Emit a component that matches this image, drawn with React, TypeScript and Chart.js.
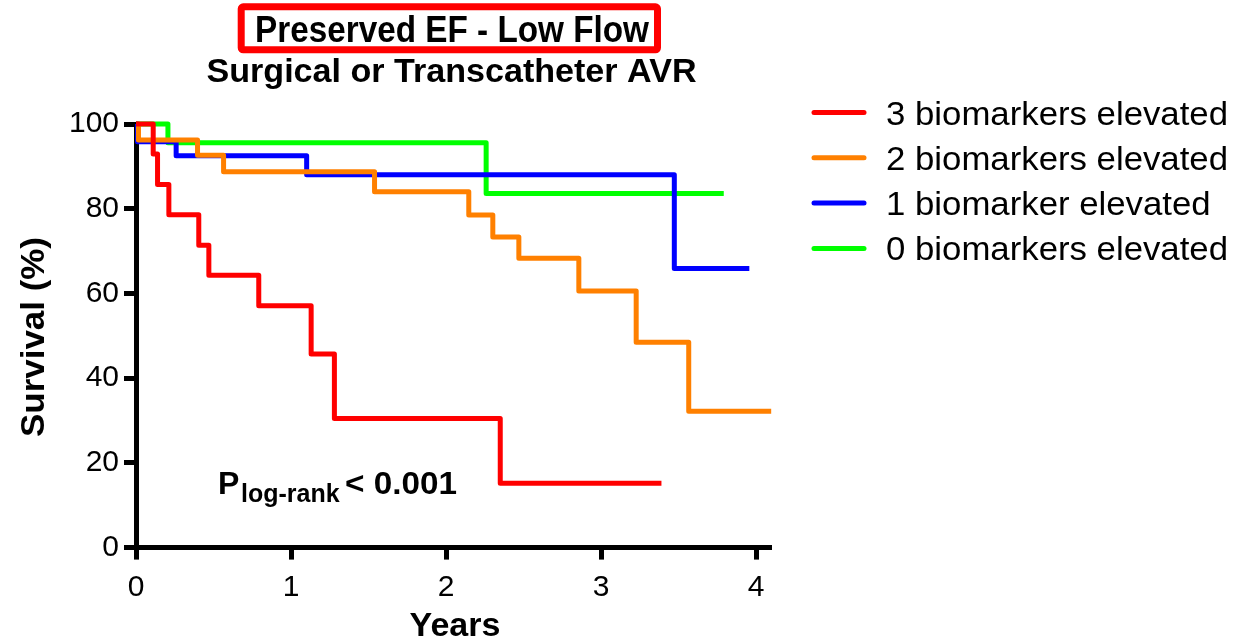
import React, { useEffect, useRef } from 'react';
import { Chart, registerables } from 'chart.js';

Chart.register(...registerables);

// ---- data (years, survival %) ----
const seriesLabels = ['3 biomarkers elevated', '2 biomarkers elevated', '1 biomarker elevated', '0 biomarkers elevated'];
const seriesColors = ['#FF0000', '#FF8000', '#0000FF', '#00FF00'];

const redTimes = [0, 0.111, 0.139, 0.212, 0.405, 0.47, 0.792, 1.13, 1.28, 2.35, 3.39];
const redSurv = [100, 92.9, 85.7, 78.6, 71.4, 64.3, 57.1, 45.7, 30.5, 15.2, 15.2];

const orangeTimes = [0, 0.016, 0.397, 0.565, 1.539, 2.147, 2.302, 2.47, 2.857, 3.227, 3.566, 4.098];
const orangeSurv = [100, 96.2, 92.6, 88.7, 84.0, 78.5, 73.3, 68.3, 60.6, 48.5, 32.2, 32.2];

const blueTimes = [0, 0.01, 0.259, 1.101, 3.473, 3.957];
const blueSurv = [100, 95.8, 92.5, 88.0, 65.9, 65.9];

const greenTimes = [0, 0.206, 2.259, 3.792];
const greenSurv = [100, 95.6, 83.6, 83.6];

const xTickValues = [0, 1, 2, 3, 4];
const yTickValues = [0, 20, 40, 60, 80, 100];

const titleText = 'Preserved EF - Low Flow';
const subtitleText = 'Surgical or Transcatheter AVR';
const xTitle = 'Years';
const yTitle = 'Survival (%)';

const FONT = '"Liberation Sans", Arial, Helvetica, sans-serif';

function pts(t: number[], s: number[]) {
  return t.map((x, i) => ({ x, y: s[i] }));
}

function drawText(
  ctx: CanvasRenderingContext2D,
  s: string,
  x: number,
  y: number,
  size: number,
  bold: boolean,
  align: CanvasTextAlign,
  targetW?: number
) {
  ctx.save();
  ctx.font = `${bold ? 'bold ' : ''}${size}px ${FONT}`;
  ctx.textBaseline = 'alphabetic';
  ctx.fillStyle = '#000';
  const w = ctx.measureText(s).width;
  const sx = targetW ? targetW / w : 1;
  ctx.translate(x, y);
  ctx.scale(sx, 1);
  ctx.textAlign = align;
  ctx.fillText(s, 0, 0);
  ctx.restore();
}

const decorPlugin = {
  id: 'decor',
  afterDraw(chart: any) {
    const ctx: CanvasRenderingContext2D = chart.ctx;
    // Title box
    ctx.save();
    ctx.strokeStyle = '#FF0000';
    ctx.lineWidth = 7;
    ctx.beginPath();
    if ((ctx as any).roundRect) {
      (ctx as any).roundRect(241.2, 6.8, 416.3, 43, 2);
    } else {
      ctx.rect(241.2, 6.8, 416.3, 43);
    }
    ctx.stroke();
    ctx.restore();

    drawText(ctx, titleText, 452, 42, 37, true, 'center', 394);
    drawText(ctx, subtitleText, 451.5, 82, 33, true, 'center', 490);

    // axis titles
    drawText(ctx, xTitle, 455, 636, 34, true, 'center');
    ctx.save();
    ctx.translate(44, 337);
    ctx.rotate(-Math.PI / 2);
    drawText(ctx, yTitle, 0, 0, 34, true, 'center', 200);
    ctx.restore();

    // P log-rank annotation
    drawText(ctx, 'P', 218, 494.3, 32, true, 'left');
    drawText(ctx, 'log-rank', 241, 501.7, 25, true, 'left');
    drawText(ctx, '< 0.001', 345, 494.3, 32, true, 'left', 112);

    // Legend
    ctx.save();
    ctx.font = `33px ${FONT}`;
    const w0 = ctx.measureText(seriesLabels[0]).width;
    const sx = 342 / w0;
    ctx.restore();
    const baselines = [124.5, 169.8, 215.1, 260.4];
    chart.data.datasets.forEach((ds: any, i: number) => {
      const by = baselines[i];
      ctx.save();
      ctx.strokeStyle = ds.borderColor;
      ctx.lineWidth = 5;
      ctx.lineCap = 'round';
      ctx.beginPath();
      ctx.moveTo(814, by - 12);
      ctx.lineTo(864, by - 12);
      ctx.stroke();
      ctx.restore();
      ctx.save();
      ctx.font = `33px ${FONT}`;
      ctx.fillStyle = '#000';
      ctx.textBaseline = 'alphabetic';
      ctx.translate(886, by);
      ctx.scale(sx, 1);
      ctx.fillText(ds.label, 0, 0);
      ctx.restore();
    });
  },
};

export default function App() {
  const ref = useRef<HTMLCanvasElement | null>(null);

  useEffect(() => {
    document.body.style.margin = '0';
    const canvas = ref.current;
    if (!canvas) return;
    const seriesData = [
      pts(redTimes, redSurv),
      pts(orangeTimes, orangeSurv),
      pts(blueTimes, blueSurv),
      pts(greenTimes, greenSurv),
    ];
    const chart = new Chart(canvas, {
      type: 'line',
      data: {
        datasets: seriesData.map((d, i) => ({
          label: seriesLabels[i],
          data: d,
          borderColor: seriesColors[i],
          backgroundColor: seriesColors[i],
          borderWidth: 5,
          pointRadius: 0,
          pointHoverRadius: 0,
          stepped: 'before' as const,
          fill: false,
          tension: 0,
          clip: false as any,
          borderJoinStyle: 'round' as const,
        })),
      },
      options: {
        responsive: false,
        animation: false,
        devicePixelRatio: 1,
        events: [],
        layout: { padding: { left: 0, top: 124, right: 1245 - 771.5, bottom: 0 } },
        plugins: {
          legend: { display: false },
          title: { display: false },
          tooltip: { enabled: false },
        },
        scales: {
          x: {
            type: 'linear',
            min: 0,
            max: 4.1,
            afterFit: (scale: any) => {
              scale.height = 642 - 547.6;
            },
            afterBuildTicks: (scale: any) => {
              scale.ticks = xTickValues.map((v) => ({ value: v }));
            },
            ticks: {
              stepSize: 1,
              includeBounds: false,
              color: '#000',
              padding: 10,
              font: { size: 30, family: FONT },
              maxRotation: 0,
            },
            grid: {
              display: true,
              drawOnChartArea: false,
              drawTicks: true,
              tickLength: 12,
              tickWidth: 5,
              tickColor: '#000',
              color: '#000',
            },
            border: { display: true, color: '#000', width: 5 },
          },
          y: {
            type: 'linear',
            min: 0,
            max: 100,
            afterFit: (scale: any) => {
              scale.width = 136;
            },
            afterBuildTicks: (scale: any) => {
              scale.ticks = yTickValues.map((v) => ({ value: v }));
            },
            ticks: {
              stepSize: 20,
              color: '#000',
              padding: 5,
              font: { size: 30, family: FONT },
            },
            grid: {
              display: true,
              drawOnChartArea: false,
              drawTicks: true,
              tickLength: 12,
              tickWidth: 5,
              tickColor: '#000',
              color: '#000',
            },
            border: { display: true, color: '#000', width: 5 },
          },
        },
      },
      plugins: [decorPlugin],
    });
    return () => chart.destroy();
  }, []);

  return <canvas ref={ref} width={1245} height={642} style={{ display: 'block' }} />;
}
